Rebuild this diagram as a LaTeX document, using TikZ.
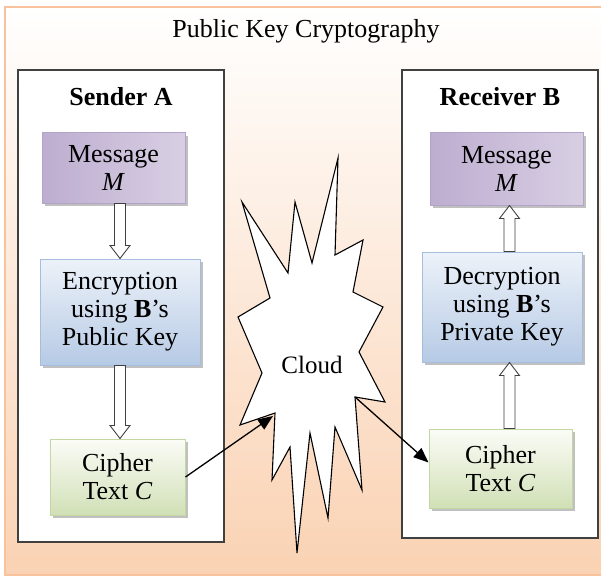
\documentclass[tikz,border=0pt]{standalone}
\usepackage{fontspec}
\setmainfont{Liberation Serif}
\usepackage{tikz}
\usetikzlibrary{positioning, calc, shadows, arrows.meta}
\usepackage{xcolor}

\definecolor{peach}{HTML}{FAD2B3}
\definecolor{frameline}{HTML}{F8C29C}
\definecolor{partyline}{HTML}{404040}
\definecolor{msgdark}{HTML}{BDADD0}
\definecolor{msglight}{HTML}{EEEAF3}
\definecolor{msgmid}{HTML}{D8CFE3}
\definecolor{msgline}{HTML}{B4A3C8}
\definecolor{keytop}{HTML}{EDF2F9}
\definecolor{keybot}{HTML}{B6CAE5}
\definecolor{keyline}{HTML}{A6BEDD}
\definecolor{ciphtop}{HTML}{FBFCF7}
\definecolor{ciphbot}{HTML}{D1E0B6}
\definecolor{ciphline}{HTML}{C3D7A3}

\tikzset{
  party/.style={draw=partyline, line width=1.4pt, fill=white, inner sep=0pt},
  cbox/.style={align=center, inner sep=0pt, line width=1pt,
    drop shadow={shadow xshift=3pt, shadow yshift=-3pt, fill=black!35, opacity=.7}},
  msgbox/.style={cbox, draw=msgline, left color=msgdark, middle color=msglight, right color=msgmid},
  keybox/.style={cbox, draw=keyline, top color=keytop, bottom color=keybot},
  ciphbox/.style={cbox, draw=ciphline, top color=ciphtop, bottom color=ciphbot},
  hollow/.style={draw=black!75, fill=white, line width=0.9pt},
  wire/.style={line width=1.3pt, -{Triangle[length=15pt, width=12pt]}},
}

% block arrow, shaft from #1, tip at #2 (vertical only)
\newcommand{\hollowarrow}[2]{%
  \draw[hollow] let \p1=(#1), \p2=(#2), \n1={ifthenelse(\y2>\y1,1,-1)},
    \n2={\y2-(\n1)*13} in
    ({\x1-5.5pt},\y1) -- ({\x1-5.5pt},\n2) -- ({\x1-10pt},\n2) -- (\x1,\y2)
    -- ({\x1+10pt},\n2) -- ({\x1+5.5pt},\n2) -- ({\x1+5.5pt},\y1) -- cycle;}

\begin{document}
\begin{tikzpicture}[x=1pt, y=-1pt, font=\fontsize{26}{28}\selectfont]
  \useasboundingbox (0,0) rectangle (601,577);
  \shadedraw[top color=white, bottom color=peach, draw=frameline, line width=2.5pt] (5,7) rectangle (614,575);

  \node (title) at (306,31) {Public Key Cryptography};

  \node[party, minimum width=206pt, minimum height=472pt] (sender) at (121,306) {};
  \node[party, minimum width=196pt, minimum height=468pt] (receiver) at (500,304) {};
  \node[font=\fontsize{26}{28}\selectfont\bfseries] (senderlbl) at (121,97) {Sender A};
  \node[font=\fontsize{26}{28}\selectfont\bfseries] (receiverlbl) at (500,97) {Receiver B};

  \node[msgbox, minimum width=143pt, minimum height=70pt] (msgA) at (113.5,168) {Message\\\textit{M}};
  \node[keybox, minimum width=160pt, minimum height=106pt] (encA) at (120,312) {Encryption\\using \textbf{B}’s\\Public Key};
  \node[ciphbox, minimum width=135pt, minimum height=76pt] (ciphA) at (117.5,477) {Cipher\\Text \textit{C}};

  \node[msgbox, minimum width=153pt, minimum height=72pt] (msgB) at (506.5,169) {Message\\\textit{M}};
  \node[keybox, minimum width=160pt, minimum height=110pt] (decB) at (502,307) {Decryption\\using \textbf{B}’s\\Private Key};
  \node[ciphbox, minimum width=143pt, minimum height=79pt] (ciphB) at (500.5,468.5) {Cipher\\Text \textit{C}};

  \filldraw[fill=white, draw=black, line width=1.1pt, line join=miter]
    (242,202) -- (288,273) -- (295,202) -- (312,263) -- (338,158) -- (335,255)
    -- (363,240) -- (353,292) -- (383,307) -- (359,352) -- (385,402) -- (355,397)
    -- (362,490) -- (335,427) -- (328,518) -- (310,433) -- (297,553) -- (290,447)
    -- (272,480) -- (275,413) -- (240,425) -- (262,373) -- (238,317) -- (270,298) -- cycle;
  \node[font=\fontsize{25}{27}\selectfont] (cloud) at (312,365) {Cloud};
  \coordinate (cloudin) at (273,416);
  \coordinate (cloudout) at (355,397);
  \coordinate (upB) at ([xshift=9pt]ciphB.north);

  \hollowarrow{encA.north |- msgA.south}{encA.north}
  \hollowarrow{encA.south}{encA.south |- ciphA.north}
  \hollowarrow{upB}{upB |- decB.south}
  \hollowarrow{upB |- decB.north}{upB |- msgB.south}

  \draw[wire] (ciphA.east) -- (cloudin);
  \draw[wire] (cloudout) -- ([yshift=6pt]ciphB.west);
\end{tikzpicture}
\end{document}
